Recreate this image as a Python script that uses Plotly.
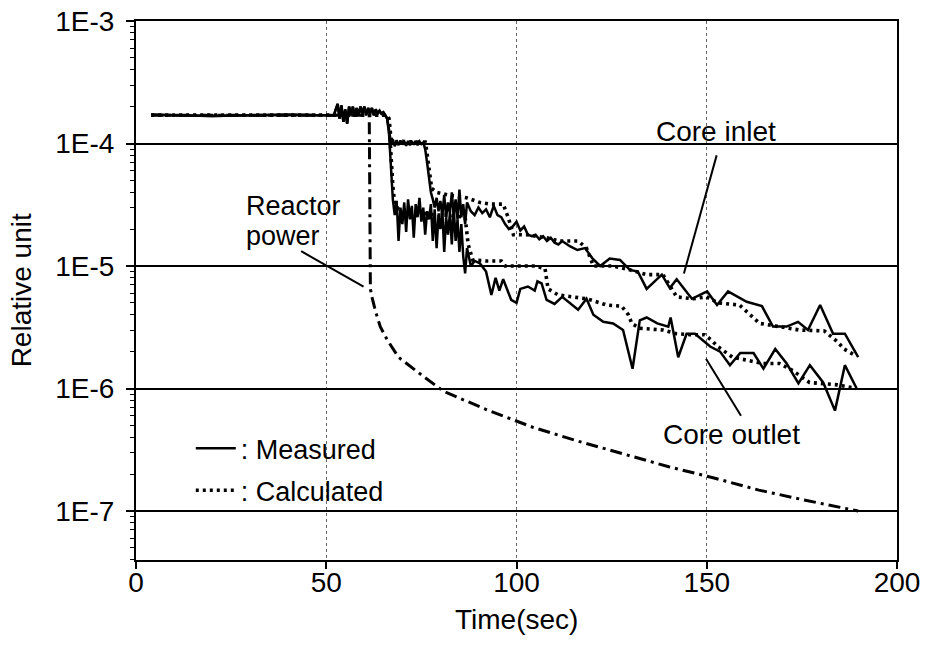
import math
import plotly.graph_objects as go

# ---------------- data ----------------
# common pre-transient segment (both measured signals overlap)
t_pre = [4, 10, 20, 30, 40, 48, 52, 52.5, 53, 53.5, 54, 54.5, 55, 55.5, 56, 56.5, 57, 57.5, 58,
         58.5, 59, 59.5, 60, 60.5, 61, 61.5, 62, 62.5, 63, 63.5, 64, 64.5, 65, 65.5, 66]
v_pre = [1.72e-4, 1.70e-4, 1.68e-4, 1.70e-4, 1.72e-4, 1.70e-4, 1.70e-4, 1.9e-4, 2.1e-4, 1.6e-4,
         2.05e-4, 1.5e-4, 1.9e-4, 1.45e-4, 2.0e-4, 1.7e-4, 2.0e-4, 1.65e-4, 1.95e-4, 1.7e-4, 2.0e-4,
         1.75e-4, 2.0e-4, 1.7e-4, 1.95e-4, 1.75e-4, 1.95e-4, 1.7e-4, 1.9e-4, 1.75e-4, 1.85e-4,
         1.75e-4, 1.8e-4, 1.7e-4, 1.6e-4]

t_in_meas = [66.5, 67, 67.5, 68, 68.5, 69, 69.5, 70, 70.5, 71, 71.5, 72, 72.5, 73, 73.5, 74, 74.5,
             75, 75.5, 76, 76.5, 77, 77.5, 78, 78.5, 79, 79.5, 80, 80.5, 81, 81.5, 82, 82.5, 83,
             83.5, 84, 84.5, 85, 85.5, 86, 86.5, 87, 88, 89, 90, 91, 92, 93, 94, 95, 96, 97, 98,
             99, 100, 101, 102, 103, 104, 105, 106, 107, 108, 109, 110, 111, 112, 114, 116, 118,
             120, 122, 124.5, 127.2, 129.8, 131.9, 134.2, 138.2, 140.3, 142.1, 146.1, 150.1,
             152.7, 155.6, 160.5, 164.5, 167.4, 171, 174, 176.6, 179.8, 183.2, 186.3, 189.8]
v_in_meas = [1.3e-4, 1.0e-4, 1.08e-4, 0.95e-4, 1.05e-4, 0.97e-4, 1.06e-4, 0.98e-4, 1.04e-4,
             0.96e-4, 1.05e-4, 0.97e-4, 1.04e-4, 0.98e-4, 1.05e-4, 0.97e-4, 1.04e-4, 0.99e-4,
             1.02e-4, 0.9e-4, 7e-5, 5e-5, 4e-5, 3.5e-5, 3.0e-5, 3.6e-5, 2.8e-5, 3.4e-5, 2.6e-5,
             3.8e-5, 2.5e-5, 3.3e-5, 2.7e-5, 4.0e-5, 2.6e-5, 3.5e-5, 2.4e-5, 4.2e-5, 2.5e-5,
             3.2e-5, 2.2e-5, 3.3e-5, 2.8e-5, 2.6e-5, 3.0e-5, 2.7e-5, 2.9e-5, 2.5e-5, 3.1e-5,
             2.6e-5, 2.5e-5, 2.2e-5, 2.0e-5, 2.1e-5, 2.3e-5, 1.95e-5, 2.1e-5, 1.8e-5, 1.75e-5,
             1.8e-5, 1.65e-5, 1.75e-5, 1.6e-5, 1.7e-5, 1.55e-5, 1.5e-5, 1.6e-5, 1.45e-5, 1.35e-5,
             1.4e-5, 1.15e-5, 1.0e-5, 1.15e-5, 1.12e-5, 9.3e-6, 9.0e-6, 6.5e-6, 8.5e-6, 6.6e-6,
             7.8e-6, 5.4e-6, 6.2e-6, 4.8e-6, 6.2e-6, 5.1e-6, 4.7e-6, 3.2e-6, 3.2e-6, 3.5e-6,
             3.0e-6, 4.8e-6, 2.8e-6, 2.8e-6, 1.8e-6]

t_out_meas = [66.5, 67, 67.5, 68, 68.5, 69, 69.5, 70, 70.5, 71, 71.5, 72, 72.5, 73, 73.5, 74, 74.5,
              75, 75.5, 76, 76.5, 77, 77.5, 78, 78.5, 79, 79.5, 80, 80.5, 81, 81.5, 82, 82.5, 83,
              83.5, 84, 84.5, 85, 85.5, 86, 86.5, 87, 88, 89, 90.4, 92, 93.4, 94.5, 95.5, 96.5,
              98.6, 100, 101, 103, 104.8, 105.5, 106.6, 107.9, 110, 112, 114, 116.2, 118.4, 120.2,
              122.8, 125.4, 128, 130.5, 132.4, 134.2, 137, 139.9, 140.5, 142.5, 144.7, 146.9,
              150.9, 153.5, 156.1, 158.8, 162.3, 164.9, 168, 171, 174.1, 177.1, 180.6, 183.7,
              186.3, 189.4]
v_out_meas = [1.2e-4, 6e-5, 3.5e-5, 2.6e-5, 3.4e-5, 1.6e-5, 3.0e-5, 2.2e-5, 3.3e-5, 1.9e-5,
              3.5e-5, 2.4e-5, 3.1e-5, 1.7e-5, 3.2e-5, 2.5e-5, 3.6e-5, 2.3e-5, 3.0e-5, 1.8e-5,
              2.8e-5, 2.4e-5, 3.2e-5, 1.6e-5, 2.9e-5, 1.4e-5, 2.6e-5, 2.0e-5, 2.9e-5, 1.3e-5,
              2.5e-5, 1.8e-5, 2.7e-5, 1.5e-5, 3.0e-5, 1.6e-5, 2.4e-5, 1.3e-5, 2.2e-5, 1.2e-5,
              8.7e-6, 1.4e-5, 1.0e-5, 1.1e-5, 1.05e-5, 9.0e-6, 5.8e-6, 8.0e-6, 6.3e-6, 7.8e-6,
              5.3e-6, 5.0e-6, 6.5e-6, 6.8e-6, 6.3e-6, 7.5e-6, 7.2e-6, 5.3e-6, 4.9e-6, 5.6e-6,
              5.0e-6, 4.4e-6, 5.4e-6, 4.0e-6, 3.5e-6, 3.4e-6, 3.0e-6, 1.45e-6, 3.6e-6, 3.8e-6,
              3.4e-6, 3.2e-6, 3.8e-6, 1.8e-6, 2.8e-6, 2.8e-6, 2.2e-6, 2.0e-6, 1.55e-6, 1.95e-6,
              1.95e-6, 1.45e-6, 2.1e-6, 1.6e-6, 1.1e-6, 1.55e-6, 1.12e-6, 6.6e-7, 1.55e-6, 1.0e-6]

t_calc_pre = [4, 20, 40, 66]
v_calc_pre = [1.7e-4, 1.7e-4, 1.7e-4, 1.7e-4]

t_in_calc = [66.5, 67, 67.5, 70, 73, 76, 76.4, 77, 77.7, 79, 82, 85, 86.9, 90.4, 93, 96.5, 97.8,
             99.2, 102.7, 107.9, 111.4, 116.2, 118.4, 120.2, 125.4, 129.8, 134.2, 138.5, 142.1,
             146.4, 149.9, 153, 158.6, 163.9, 169.1, 174.4, 180.9, 184.4, 186.1, 189.2]
v_in_calc = [1.6e-4, 1.1e-4, 1.03e-4, 1.04e-4, 1.03e-4, 1.03e-4, 8.7e-5, 6e-5, 4.3e-5, 4.0e-5,
             3.8e-5, 3.7e-5, 3.6e-5, 3.3e-5, 3.2e-5, 3.2e-5, 2.5e-5, 1.8e-5, 1.8e-5, 1.7e-5,
             1.6e-5, 1.6e-5, 1.4e-5, 1.0e-5, 1.0e-5, 9.3e-6, 8.5e-6, 8.5e-6, 5.6e-6, 5.4e-6,
             5.6e-6, 5.0e-6, 4.8e-6, 3.4e-6, 3.2e-6, 3.0e-6, 2.95e-6, 2.4e-6, 2.1e-6, 1.85e-6]

t_out_calc = [66.5, 67, 67.5, 68, 69, 72, 76, 79, 82, 85, 86.5, 87.3, 88.5, 92, 96, 97, 101, 105,
              107.5, 108.3, 111, 115, 118.4, 120.2, 123.7, 127.6, 129.4, 130.3, 132.4, 138.5, 142,
              145.5, 149.4, 151.1, 152.9, 156.8, 160.3, 164.7, 169.1, 172.6, 177, 181.4, 184.4,
              189.2]
v_out_calc = [1.5e-4, 8e-5, 4.5e-5, 3.2e-5, 2.9e-5, 2.8e-5, 2.7e-5, 2.6e-5, 2.6e-5, 2.55e-5,
              2.5e-5, 1.5e-5, 1.12e-5, 1.1e-5, 1.1e-5, 1.0e-5, 1.0e-5, 1.0e-5, 9.5e-6, 6.5e-6,
              5.8e-6, 5.6e-6, 5.4e-6, 5.2e-6, 4.8e-6, 4.7e-6, 4.0e-6, 3.4e-6, 3.1e-6, 3.0e-6,
              2.8e-6, 2.75e-6, 2.75e-6, 2.5e-6, 2.2e-6, 1.8e-6, 1.7e-6, 1.6e-6, 1.6e-6, 1.4e-6,
              1.12e-6, 1.1e-6, 1.07e-6, 1.0e-6]

t_power = [4, 30, 61.3, 61.6, 62, 63, 64.2, 66, 69, 74.9, 80.8, 92.7, 104.5, 116.4, 128.2, 140,
           151.9, 163.7, 175.6, 189.8]
v_power = [1.7e-4, 1.7e-4, 1.7e-4, 6.5e-6, 5.6e-6, 4.2e-6, 3.2e-6, 2.5e-6, 1.8e-6, 1.3e-6, 9.5e-7,
           6.6e-7, 4.8e-7, 3.7e-7, 2.9e-7, 2.3e-7, 1.86e-7, 1.48e-7, 1.23e-7, 1.0e-7]

y_tickvals = [1e-3, 1e-4, 1e-5, 1e-6, 1e-7]
y_ticktext = ["1E-3", "1E-4", "1E-5", "1E-6", "1E-7"]
x_tickvals = [0, 50, 100, 150, 200]

# annotation pointer lines (t, value)
ptr_inlet_t = [144.0, 152.6]
ptr_inlet_v = [8.7e-6, 8.0e-5]
ptr_outlet_t = [149.8, 159.0]
ptr_outlet_v = [1.75e-6, 6.0e-7]
ptr_power_t = [43.4, 59.8]
ptr_power_v = [1.32e-5, 6.8e-6]

# ---------------- figure ----------------
FONT = "Liberation Sans, Arial, sans-serif"
FS = 28
fig = go.Figure()

solid = dict(color="black", width=2.5)
dotted = dict(color="black", width=3.6, dash="3px,4px")

fig.add_trace(go.Scatter(x=t_pre + t_in_meas, y=v_pre + v_in_meas, mode="lines", line=solid,
                         name=": Measured", legendgroup="m", showlegend=True))
fig.add_trace(go.Scatter(x=t_pre + t_out_meas, y=v_pre + v_out_meas, mode="lines", line=solid,
                         showlegend=False))
fig.add_trace(go.Scatter(x=t_calc_pre + t_in_calc, y=v_calc_pre + v_in_calc, mode="lines",
                         line=dotted, name=": Calculated", legendgroup="c", showlegend=True))
fig.add_trace(go.Scatter(x=t_calc_pre + t_out_calc, y=v_calc_pre + v_out_calc, mode="lines",
                         line=dotted, showlegend=False))
fig.add_trace(go.Scatter(x=t_power, y=v_power, mode="lines",
                         line=dict(color="black", width=3, dash="12px,5px,3px,5px"),
                         showlegend=False))

for tx, vy in [(ptr_inlet_t, ptr_inlet_v), (ptr_outlet_t, ptr_outlet_v), (ptr_power_t, ptr_power_v)]:
    fig.add_trace(go.Scatter(x=tx, y=vy, mode="lines", line=dict(color="black", width=2),
                             showlegend=False, hoverinfo="skip"))

ann_font = dict(family=FONT, size=FS, color="black")
fig.add_annotation(x=152.4, y=math.log10(1.25e-4), text="Core inlet", showarrow=False,
                   xref="x", yref="y", font=ann_font)
fig.add_annotation(x=156.4, y=math.log10(4.2e-7), text="Core outlet", showarrow=False,
                   xref="x", yref="y", font=ann_font)
fig.add_annotation(x=28.5, y=-4.514, text="Reactor", showarrow=False, height=28,
                   xref="x", yref="y", xanchor="left", font=dict(family=FONT, size=27, color="black"))
fig.add_annotation(x=28.5, y=-4.759, text="power", showarrow=False, height=28,
                   xref="x", yref="y", xanchor="left", font=dict(family=FONT, size=27, color="black"))
# axis titles placed as text
fig.add_annotation(x=-0.150, y=0.5, xref="paper", yref="paper", text="Relative unit",
                   textangle=-90, showarrow=False, xanchor="center", yanchor="middle",
                   font=ann_font)
fig.add_annotation(x=0.5, y=-0.1113, xref="paper", yref="paper", text="Time(sec)",
                   showarrow=False, xanchor="center", yanchor="middle", font=ann_font)

fig.update_layout(
    width=927, height=646,
    margin=dict(l=136, r=30, t=21, b=86),
    paper_bgcolor="white", plot_bgcolor="white",
    font=dict(family=FONT, size=FS, color="black"),
    showlegend=True,
    legend=dict(x=0.072, y=0.252, xanchor="left", yanchor="top", bgcolor="rgba(0,0,0,0)",
                font=dict(family=FONT, size=FS - 1, color="black"), tracegroupgap=4,
                traceorder="grouped", itemwidth=40),
    xaxis=dict(range=[0, 200], tickvals=x_tickvals, ticks="outside", ticklen=7, tickwidth=1.5,
               tickcolor="black", showline=True, linecolor="black", linewidth=2, mirror=True,
               showgrid=True, gridcolor="#666", griddash="dot", gridwidth=1, zeroline=False,
               automargin=False, tickfont=dict(family=FONT, size=FS), ticklabelstandoff=-11),
    yaxis=dict(type="log", range=[-7.4, -3], tickvals=y_tickvals, ticktext=y_ticktext,
               ticks="outside", ticklen=8, tickwidth=1.5, tickcolor="black",
               showline=True, linecolor="black", linewidth=2, mirror=True,
               showgrid=True, gridcolor="black", gridwidth=1.5, zeroline=False,
               automargin=False, tickfont=dict(family=FONT, size=FS), ticklabelstandoff=6,
               minor=dict(ticks="outside", ticklen=4, tickcolor="black", tickwidth=1.2,
                          showgrid=False, dtick="D1")),
)

fig.write_html("out.html")
